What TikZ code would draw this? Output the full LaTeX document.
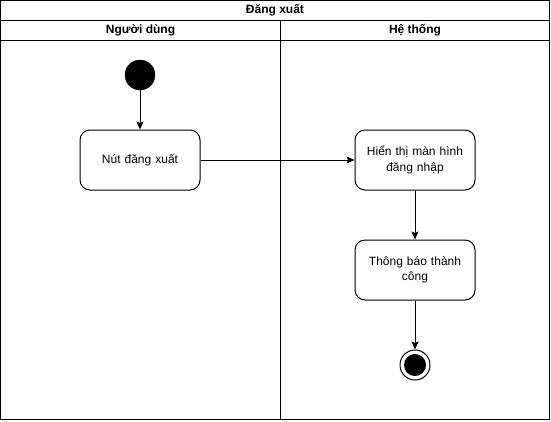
\documentclass[tikz,border=0pt]{standalone}
\usepackage{fontspec}
\setmainfont{Liberation Sans}
\usetikzlibrary{arrows.meta}
\begin{document}
\begin{tikzpicture}[x=1pt,y=-1pt,
  every node/.style={font=\fontsize{12}{15.5}\selectfont},
  frame/.style={draw=black,line width=1pt},
  header/.style={font=\fontsize{12}{14}\selectfont\bfseries,anchor=center,inner sep=0pt},
  action/.style={draw=black,line width=1pt,rounded corners=10pt,minimum width=120pt,minimum height=60pt,align=center,text width=110pt,inner sep=0pt},
  startnode/.style={circle,fill=black,draw=black,minimum size=30pt,inner sep=0pt},
  endouter/.style={circle,draw=black,line width=1pt,fill=white,minimum size=30pt,inner sep=0pt},
  flow/.style={line width=1pt,-{Stealth[length=8pt,width=7pt,inset=1.5pt]}}]
\useasboundingbox (0,0) rectangle (551,421);
\fill[white] (0,0) rectangle (551,421);
% pool and lanes
\draw[frame] (0.5,0.5) rectangle (549.5,419.5);
\draw[frame] (0.5,20) -- (549.5,20);
\draw[frame] (0.5,40) -- (549.5,40);
\draw[frame] (280.5,20) -- (280.5,419.5);
\node[header] (title) at (275,10) {Đăng xuất};
\node[header] (lane1) at (140.5,30) {Người dùng};
\node[header] (lane2) at (415,30) {Hệ thống};
% nodes
\node[startnode] (start) at (140,75) {};
\node[action] (n1) at (140,160) {Nút đăng xuất};
\node[action] (n2) at (415,160) {Hiển thị màn hình\\đăng nhập};
\node[action] (n3) at (415,270) {Thông báo thành\\công};
\node[endouter] (end) at (415,365) {};
\node[circle,fill=black,minimum size=22pt,inner sep=0pt] (endin) at (end.center) {};
% flows
\draw[flow] (start) -- (n1);
\draw[flow] (n1) -- (n2);
\draw[flow] (n2) -- (n3);
\draw[flow] (n3) -- (end);
\end{tikzpicture}
\end{document}
